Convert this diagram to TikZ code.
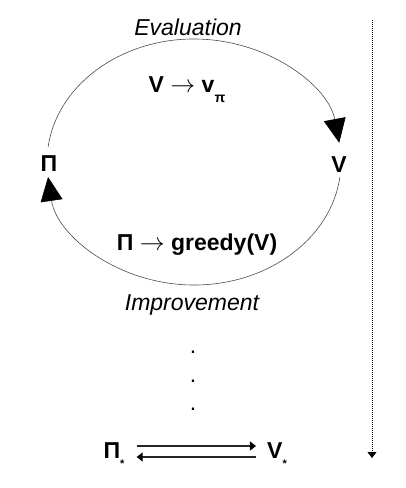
\documentclass[tikz,border=0pt]{standalone}
\usepackage{fontspec}
\setmainfont{Liberation Sans}
\usetikzlibrary{arrows.meta}

\begin{document}
\begin{tikzpicture}[x=1pt,y=1pt,
    lbl/.style={anchor=base,inner sep=0pt,font=\fontsize{23}{27}\selectfont},
    boldlbl/.style={lbl,font=\fontsize{23}{27}\selectfont\bfseries},
    cyclearc/.style={line width=0.6pt,draw=black!70,-{Triangle[width=22pt,length=24pt,color=black]}},
    convarrow/.style={line width=1.1pt,draw=black!85,-{Triangle[width=9pt,length=6pt,color=black]}},
    timeline/.style={line width=0.9pt,dash pattern=on 1pt off 1pt,-{Triangle[width=9pt,length=6pt]}}]
  \useasboundingbox (0,0) rectangle (406,-488);
  % evaluation / improvement cycle
  \node[lbl] (eval) at (188,-35) {\itshape Evaluation};
  \node[boldlbl] (evalrule) at (187,-92) {V $\rightarrow$ v\raisebox{-10pt}{\fontsize{14}{14}\selectfont π}};
  \node[boldlbl] (pi) at (49,-171) {Π};
  \node[boldlbl] (v) at (339,-172) {V};
  \node[boldlbl] (imprule) at (197,-250) {Π $\rightarrow$ greedy(V)};
  \node[lbl] (impr) at (192,-310) {\itshape Improvement};
  \coordinate (evalstart) at (48.1,-147);
  \coordinate (imprstart) at (339.9,-177);
  \draw[cyclearc] (evalstart) arc[start angle=173,end angle=9,x radius=147,y radius=123];
  \draw[cyclearc] (imprstart) arc[start angle=-7,end angle=-173,x radius=147,y radius=123];
  % dots
  \node[lbl] (dot1) at (193,-353.5) {.};
  \node[lbl] (dot2) at (193,-382.5) {.};
  \node[lbl] (dot3) at (193,-410.5) {.};
  % optimum
  \node[boldlbl] (pistar) at (114,-458) {Π\raisebox{-9pt}{\fontsize{11}{11}\selectfont *}};
  \node[boldlbl] (vstar) at (277,-458) {V\raisebox{-9pt}{\fontsize{11}{11}\selectfont *}};
  \draw[convarrow,shorten <=12pt,shorten >=11pt] ([yshift=12pt]pistar.base east) -- ([yshift=12pt]vstar.base west);
  \draw[convarrow,shorten <=11pt,shorten >=12pt] ([yshift=1pt]vstar.base west) -- ([yshift=1pt]pistar.base east);
  % time axis
  \coordinate (timetop) at (372,-20);
  \coordinate (timebot) at (372,-458);
  \draw[timeline] (timetop) -- (timebot);
\end{tikzpicture}
\end{document}
